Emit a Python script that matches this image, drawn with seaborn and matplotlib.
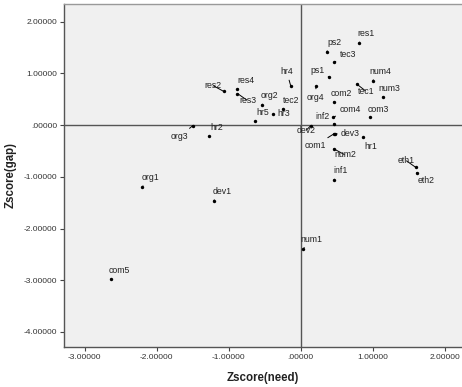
import numpy as np
import pandas as pd
import seaborn as sns
import matplotlib
matplotlib.use("Agg")
import matplotlib.pyplot as plt
from matplotlib.ticker import FuncFormatter

# items, z-score of need (x) and gap (y)
items = ["res1", "ps2", "tec3", "ps1", "num4", "tec1", "org4", "hr4", "res2", "res4",
         "res3", "num3", "com2", "org2", "tec2", "hr3", "hr5", "com3", "com4", "inf2",
         "dev2", "dev3", "com1", "hr1", "num2", "eth1", "eth2", "inf1", "org3", "hr2",
         "org1", "dev1", "num1", "com5"]
need = [0.81, 0.36, 0.46, 0.39, 1.00, 0.78, 0.21, -0.14, -1.07, -0.88,
        -0.88, 1.14, 0.46, -0.54, -0.25, -0.38, -0.63, 0.96, 0.45, 0.46,
        0.14, 0.47, 0.46, 0.86, 0.46, 1.60, 1.61, 0.46, -1.50, -1.27,
        -2.20, -1.21, 0.03, -2.64]
gap = [1.59, 1.42, 1.21, 0.93, 0.86, 0.79, 0.75, 0.76, 0.65, 0.69,
       0.61, 0.54, 0.45, 0.39, 0.31, 0.21, 0.08, 0.15, 0.15, 0.03,
       -0.01, -0.17, -0.17, -0.24, -0.46, -0.82, -0.92, -1.06, -0.01, -0.21,
       -1.19, -1.46, -2.40, -2.98]
# label offsets in pixels (dx right, dy up)
label_dx = [7, 8, 14, -11, 8, 9, 0, -4, -11, 8,
            10, 7, 7, 8, 8, 10, 7, 8, 17, -11,
            -5, 16, -19, 8, 11, -10, 9, 7, -13, 7,
            8, 8, 8, 9]
label_dy = [9, 9, 8, 6, 9, -7, -11, 14, 6, 9,
            -7, 9, 8, 9, 9, 1, 8, 8, 8, 7,
            -5, 0, -12, -9, -6, 7, -8, 9, -11, 8,
            9, 9, 10, 9]

df = pd.DataFrame({"need": need, "gap": gap, "item": items})

sns.set_style("ticks")
plt.rcParams["font.family"] = ["Liberation Sans", "DejaVu Sans"]

fig = plt.figure(figsize=(4.62, 3.87), dpi=100)
ax = fig.add_axes([64 / 462, 1 - 347 / 387, 1 - 64 / 462, (347 - 4) / 387])
ax.set_facecolor("#f0f0f0")

ax.axvline(0, color="#555555", lw=1.0, zorder=1)
ax.axhline(0, color="#555555", lw=1.0, zorder=1)

sns.scatterplot(data=df, x="need", y="gap", color="black", s=6, linewidth=0,
                ax=ax, zorder=3, legend=False)

for i, name in enumerate(items):
    ax.annotate(name, xy=(need[i], gap[i]), xytext=(label_dx[i] * 0.72, label_dy[i] * 0.72),
                textcoords="offset points", fontsize=6.3, color="#222222",
                ha="center", va="center",
                arrowprops=dict(arrowstyle="-", color="black", lw=0.7,
                                shrinkA=0.5, shrinkB=0))

ax.set_xlim(-3.29, 2.24)
ax.set_ylim(-4.29, 2.34)
ax.set_xticks([-3, -2, -1, 0, 1, 2])
ax.set_yticks([-4, -3, -2, -1, 0, 1, 2])


def spss_fmt(v, pos):
    s = f"{v:.5f}"
    if s.startswith("0."):
        s = s[1:]
    if s == "-0.00000":
        s = ".00000"
    return s


ax.xaxis.set_major_formatter(FuncFormatter(spss_fmt))
ax.yaxis.set_major_formatter(FuncFormatter(spss_fmt))
ax.tick_params(labelsize=6, colors="#444444", length=3, width=0.8, pad=2)
for lab in ax.get_xticklabels() + ax.get_yticklabels():
    lab.set_color("#333333")

for side in ["left", "bottom", "top"]:
    ax.spines[side].set_color("#555555")
    ax.spines[side].set_linewidth(1.0)
ax.spines["right"].set_visible(False)
ax.spines["top"].set_color("#999999")

ax.set_xlabel("Zscore(need)", fontsize=8.3, fontweight="bold", color="#222222", labelpad=8)
ax.set_ylabel("Zscore(gap)", fontsize=8.3, fontweight="bold", color="#222222", labelpad=5)

fig.savefig("out.png", dpi=100)
